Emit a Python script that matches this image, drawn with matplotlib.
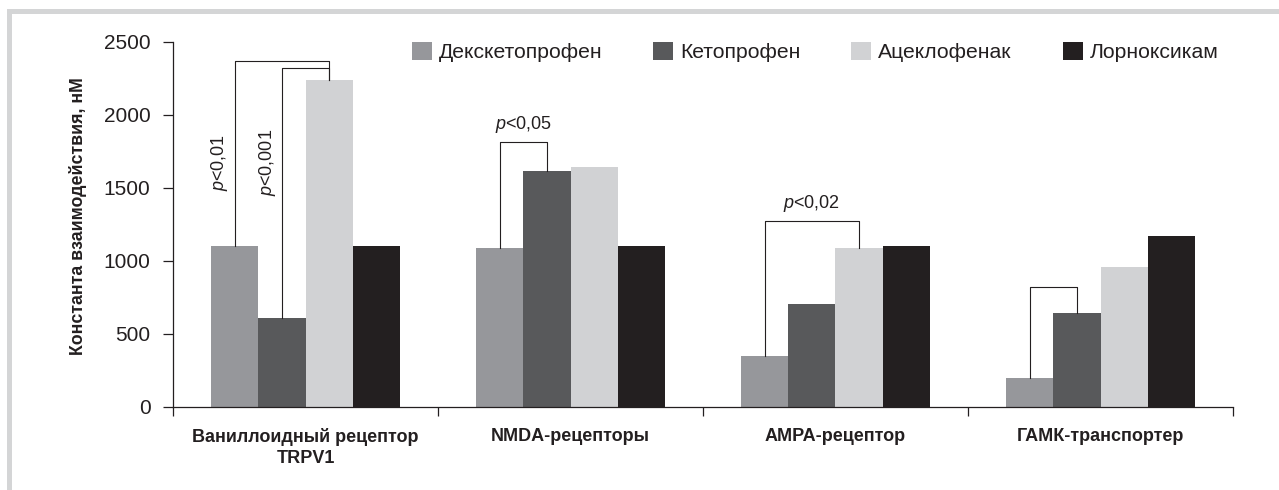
import matplotlib
import matplotlib.pyplot as plt
import numpy as np
from matplotlib.patches import Rectangle

matplotlib.use("Agg")

# данные
categories = ["Ваниллоидный рецептор\nTRPV1", "NMDA-рецепторы", "АМРА-рецептор", "ГАМК-транспортер"]
drugs = ["Декскетопрофен", "Кетопрофен", "Ацеклофенак", "Лорноксикам"]
dex = [1100, 1090, 345, 200]
keto = [610, 1615, 705, 640]
acec = [2240, 1645, 1090, 955]
lorn = [1100, 1100, 1100, 1170]
yticks = [0, 500, 1000, 1500, 2000, 2500]

# скобки значимости: (группа, левый столбец, правый столбец, высота, подпись)
brackets = [
    (0, 0, 2, 2365, "<0,01"),
    (0, 1, 2, 2320, "<0,001"),
    (1, 0, 1, 1815, "<0,05"),
    (2, 0, 2, 1275, "<0,02"),
    (3, 0, 1, 820, None),
]

colors = ["#96979b", "#58595b", "#d1d2d4", "#231f20"]
ink = "#231f20"

plt.rcParams["font.family"] = ["Liberation Sans", "DejaVu Sans"]
plt.rcParams["mathtext.fontset"] = "custom"
plt.rcParams["mathtext.it"] = "Liberation Sans:italic"
plt.rcParams["mathtext.rm"] = "Liberation Sans"

W, H = 1279, 490
fig = plt.figure(figsize=(W / 100, H / 100), dpi=100)
ax = fig.add_axes([173 / W, (H - 406.7) / H, 1060 / W, 365 / H])

# серая рамка сверху и слева
fig.add_artist(Rectangle((7 / W, (H - 14) / H), 1 - 7 / W, 4.7 / H, transform=fig.transFigure,
                         color="#d4d5d6", lw=0))
fig.add_artist(Rectangle((7 / W, 0), 5 / W, (H - 9.3) / H, transform=fig.transFigure,
                         color="#d4d5d6", lw=0))

x = np.arange(len(categories))
bw = 0.1785
series = [dex, keto, acec, lorn]
for i, (vals, name) in enumerate(zip(series, drugs)):
    ax.bar(x + (i - 1.5) * bw, vals, bw, color=colors[i], label=name, zorder=2)

for g, a, b, top, label in brackets:
    xa = g + (a - 1.5) * bw
    xb = g + (b - 1.5) * bw
    ya = series[a][g]
    yb = series[b][g]
    ax.plot([xa, xa, xb, xb], [ya, top, top, yb], color=ink, lw=0.8, zorder=3)
    if label is None:
        continue
    if g == 0:
        ax.text(xa - 0.055, 1676, "$p$" + label, rotation=90, ha="center", va="center",
                fontsize=13, color=ink)
    else:
        ax.annotate("$p$" + label, ((xa + xb) / 2, top), xytext=(0, 4.5),
                    textcoords="offset points", ha="center", va="bottom", fontsize=13, color=ink)

ax.set_xlim(-0.5, len(categories) - 0.5)
ax.set_ylim(0, 2500)
ax.set_yticks(yticks)
ax.tick_params(axis="y", direction="out", length=7.2, width=0.9, pad=9, labelsize=15, colors=ink)

ax.set_xticks(x)
ax.set_xticklabels(categories, fontweight="bold", fontsize=13, linespacing=1.35)
ax.set_xticks(np.arange(-0.5, len(categories)), minor=True)
ax.tick_params(axis="x", which="major", length=0, pad=15, colors=ink)
ax.tick_params(axis="x", which="minor", direction="out", length=6.5, width=0.9, colors=ink)

for side in ["top", "right"]:
    ax.spines[side].set_visible(False)
for side in ["left", "bottom"]:
    ax.spines[side].set_color(ink)
    ax.spines[side].set_linewidth(0.9)

fig.text(78 / W, 1 - 216 / H, "Константа взаимодействия, нМ", rotation=90, ha="center", va="center",
         fontsize=12.8, fontweight="bold", color=ink)

fig.legend(loc="center left", bbox_to_anchor=(412 / W, 1 - 52 / H), ncol=4, frameon=False,
           fontsize=15.2, handlelength=0.95, handleheight=0.95, handletextpad=0.33,
           columnspacing=2.4, borderpad=0, borderaxespad=0, labelcolor=ink)

fig.savefig("out.png", dpi=100)
plt.close(fig)
